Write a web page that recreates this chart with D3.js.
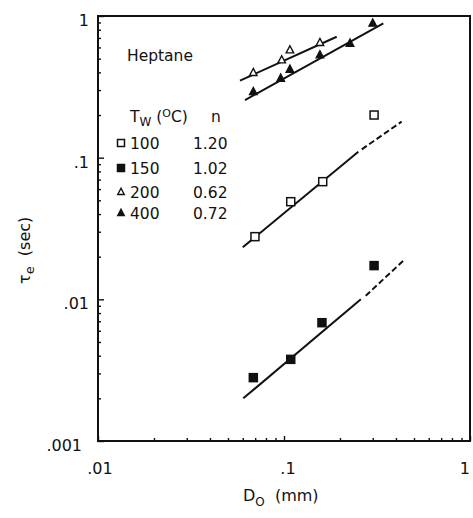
<!DOCTYPE html>
<html><head><meta charset="utf-8">
<script src="https://cdn.jsdelivr.net/npm/d3@7"></script>
<style>
html,body{margin:0;padding:0;background:#fff;}
text{font-family:"DejaVu Sans",Arial,Helvetica,sans-serif;fill:#111;}
</style></head>
<body><svg id="c" width="473" height="518"></svg>
<script>
// ---- data ----
const xTickValues = [0.01, 0.1, 1];
const xTickLabels = [".01", ".1", "1"];
const yTickValues = [0.001, 0.01, 0.1, 1];
const yTickLabels = [".001", ".01", ".1", "1"];

const seriesNames = ["100", "150", "200", "400"];
const seriesN = ["1.20", "1.02", "0.62", "0.72"];
const seriesMarker = ["openSquare", "filledSquare", "openTriangle", "filledTriangle"];

const d100 = [[0.0698, 0.0277], [0.1087, 0.0489], [0.1615, 0.0677], [0.305, 0.200]];
const d150 = [[0.0684, 0.0028], [0.1087, 0.00377], [0.160, 0.00684], [0.305, 0.0173]];
const d200 = [[0.0684, 0.398], [0.0972, 0.489], [0.1076, 0.575], [0.156, 0.648]];
const d400 = [[0.0684, 0.292], [0.0960, 0.363], [0.1076, 0.420], [0.156, 0.530], [0.2265, 0.641], [0.300, 0.888]];

// fitted lines: solid part and dashed extension
const fit100Solid = [[0.060, 0.0233], [0.251, 0.110]];
const fit100Dash  = [[0.262, 0.1145], [0.429, 0.1795]];
const fit150Solid = [[0.0604, 0.0020], [0.259, 0.0100]];
const fit150Dash  = [[0.275, 0.0106], [0.447, 0.0192]];
const fit200Solid = [[0.058, 0.350], [0.192, 0.714]];
const fit400Solid = [[0.0617, 0.255], [0.342, 0.888]];

// ---- layout ----
const svg = d3.select("#c");
const L = 98, R = 470, T = 16, B = 441;
const x = d3.scaleLog().domain([0.01, 1]).range([L, R]);
const y = d3.scaleLog().domain([0.001, 1]).range([B, T]);

// minor ticks (inward)
const xMinor = x.ticks().filter(v => !xTickValues.some(t => Math.abs(t - v) < 1e-12));
const yMinor = y.ticks().filter(v => !yTickValues.some(t => Math.abs(t - v) < 1e-12));

const gx = svg.append("g").attr("transform", `translate(0,${B})`)
  .call(d3.axisBottom(x).tickValues(xMinor).tickSize(-3).tickFormat(""));
const gxM = svg.append("g").attr("transform", `translate(0,${B})`)
  .call(d3.axisBottom(x).tickValues(xTickValues).tickSize(-5).tickFormat(""));
const gy = svg.append("g").attr("transform", `translate(${L},0)`)
  .call(d3.axisLeft(y).tickValues(yMinor).tickSize(-3).tickFormat(""));
const gyM = svg.append("g").attr("transform", `translate(${L},0)`)
  .call(d3.axisLeft(y).tickValues(yTickValues).tickSize(-6).tickFormat(""));
[gx, gxM, gy, gyM].forEach(g => {
  g.select(".domain").remove();
  g.selectAll("line").attr("stroke", "#111").attr("stroke-width", 1.4);
});

// frame
svg.append("rect").attr("x", L).attr("y", T).attr("width", R - L).attr("height", B - T)
  .attr("fill", "none").attr("stroke", "#111").attr("stroke-width", 2);

// tick labels
svg.selectAll("text.xl").data(xTickValues).enter().append("text")
  .attr("x", d => x(d) + (d === 0.01 ? 2 : (d === 0.1 ? 4 : 0)))
  .attr("y", 474).attr("text-anchor", d => d === 1 ? "end" : "middle").attr("font-size", 16)
  .text((d, i) => xTickLabels[i]);
svg.selectAll("text.yl").data(yTickValues).enter().append("text")
  .attr("x", d => d === 0.001 ? 82 : 89)
  .attr("y", d => y(d) + 10).attr("text-anchor", "end").attr("font-size", 16)
  .text((d, i) => yTickLabels[i]);

// axis titles
const xt = svg.append("text").attr("x", 243).attr("y", 501).attr("font-size", 16);
xt.append("tspan").text("D");
xt.append("tspan").attr("dy", 5).attr("font-size", 12).text("O");
xt.append("tspan").attr("dy", -5).text("\u00a0 (mm)");

const yt = svg.append("text").attr("transform", "translate(30,284) rotate(-90)").attr("font-size", 16);
yt.append("tspan").text("\u03c4");
yt.append("tspan").attr("dy", 4).attr("font-size", 13).text("e");
yt.append("tspan").attr("dy", -4).text("\u00a0 (sec)");

// lines
const line = d3.line().x(d => x(d[0])).y(d => y(d[1]));
const solidFits = [fit100Solid, fit150Solid, fit200Solid, fit400Solid];
svg.selectAll("path.fit").data(solidFits).enter().append("path")
  .attr("d", line).attr("fill", "none").attr("stroke", "#111").attr("stroke-width", 2);
svg.selectAll("path.dash").data([fit100Dash, fit150Dash]).enter().append("path")
  .attr("d", line).attr("fill", "none").attr("stroke", "#111").attr("stroke-width", 2)
  .attr("stroke-dasharray", "6,3");

// markers
function drawMarker(g, type, cx, cy, s) {
  if (type.endsWith("Square")) {
    g.append("rect").attr("x", cx - s / 2).attr("y", cy - s / 2).attr("width", s).attr("height", s)
      .attr("fill", type === "filledSquare" ? "#111" : "#fff").attr("stroke", "#111").attr("stroke-width", 1.5);
  } else {
    const h = s * 0.95;
    g.append("path").attr("d", `M${cx},${cy - h * 0.6}L${cx + s / 2},${cy + h * 0.4}L${cx - s / 2},${cy + h * 0.4}Z`)
      .attr("fill", type === "filledTriangle" ? "#111" : "#fff").attr("stroke", "#111").attr("stroke-width", 1.4);
  }
}
const allData = [d100, d150, d200, d400];
const mg = svg.append("g");
allData.forEach((ds, i) => {
  ds.forEach(d => drawMarker(mg, seriesMarker[i], x(d[0]), y(d[1]), i < 2 ? 8 : 7.5));
});

// legend
svg.append("text").attr("x", 127).attr("y", 61).attr("font-size", 15.5).text("Heptane");
const lh = svg.append("text").attr("x", 130).attr("y", 122).attr("font-size", 15.5);
lh.append("tspan").text("T");
lh.append("tspan").attr("dy", 4).attr("font-size", 12).text("W");
lh.append("tspan").attr("dy", -4).text(" (");
lh.append("tspan").attr("dy", -5).attr("font-size", 11).text("O");
lh.append("tspan").attr("dy", 5).text("C)");
svg.append("text").attr("x", 211).attr("y", 122).attr("font-size", 15.5).text("n");
const rowY = [143, 168, 192, 213];
seriesNames.forEach((nm, i) => {
  drawMarker(svg, seriesMarker[i], 121, rowY[i], i < 2 ? 7 : 6.5);
  svg.append("text").attr("x", 130).attr("y", rowY[i] + 5.5).attr("font-size", 15.5).text(nm);
  svg.append("text").attr("x", 193).attr("y", rowY[i] + 5.5).attr("font-size", 15.5).text(seriesN[i]);
});
</script></body></html>
